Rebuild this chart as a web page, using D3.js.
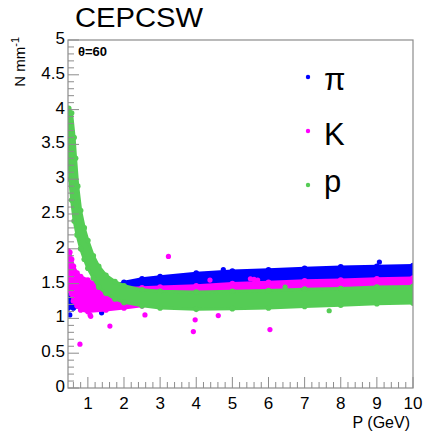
<!DOCTYPE html>
<html lang="en">
<head>
    <meta charset="UTF-8">
    <script src="https://d3js.org/d3.v7.min.js"></script>
    <title>CEPCSW dN/dx</title>
    <style>
        body { margin: 0; background: #fff; }
        svg { font-family: "Liberation Sans", Arial, sans-serif; }
    </style>
</head>
<body>
    <div id="chart"></div>
    <script>
        // band envelopes: [P (GeV), N mm^-1]
        const piUpper = [[0.45, 1.47], [0.5, 1.42], [0.6, 1.38], [0.7, 1.36], [1.0, 1.35], [1.5, 1.42], [1.8, 1.47], [2.0, 1.52], [2.5, 1.57], [3, 1.6], [4, 1.65], [5, 1.68], [6, 1.7], [7, 1.72], [8, 1.74], [9, 1.75], [10, 1.76]];
        const piLower = [[0.45, 1.15], [0.6, 1.15], [0.7, 1.18], [1.0, 1.18], [1.5, 1.2], [2, 1.25], [3, 1.3], [10, 1.35]];

        const kUpper = [[0.45, 1.97], [0.5, 1.95], [0.55, 1.85], [0.6, 1.75], [0.7, 1.65], [0.8, 1.6], [1.0, 1.55], [1.2, 1.5], [1.5, 1.45], [2, 1.43], [2.5, 1.44], [3, 1.45], [4, 1.47], [5, 1.5], [6, 1.52], [7, 1.54], [8, 1.55], [9, 1.57], [10, 1.58]];
        const kLower = [[0.45, 1.45], [0.5, 1.4], [0.55, 1.35], [0.6, 1.25], [0.7, 1.18], [0.8, 1.12], [1.0, 1.1], [1.5, 1.12], [2, 1.15], [2.5, 1.18], [3, 1.22], [4, 1.3], [5, 1.32], [6, 1.33], [7, 1.34], [8, 1.35], [9, 1.36], [10, 1.37]];

        const pOuter = [[0.47, 4.02], [0.55, 3.95], [0.62, 3.6], [0.66, 3.3], [0.72, 2.9], [0.8, 2.55], [0.9, 2.3], [1.0, 2.12], [1.15, 1.9], [1.3, 1.75], [1.5, 1.62], [1.75, 1.53], [2.0, 1.47], [2.5, 1.41], [3, 1.39], [4, 1.38], [5, 1.39], [6, 1.4], [7, 1.42], [8, 1.43], [9, 1.45], [10, 1.46]];
        const pInner = [[0.45, 4.0], [0.47, 3.5], [0.5, 3.0], [0.55, 2.7], [0.62, 2.4], [0.7, 2.2], [0.8, 2.0], [0.9, 1.85], [1.0, 1.72], [1.15, 1.58], [1.3, 1.45], [1.5, 1.36], [1.75, 1.28], [2.0, 1.23], [2.5, 1.18], [3, 1.15], [4, 1.13], [5, 1.14], [6, 1.15], [7, 1.17], [8, 1.19], [9, 1.21], [10, 1.22]];

        // isolated points
        const piOut = [[0.5, 1.05], [1.38, 1.08], [9.07, 1.81], [4.75, 1.7]];
        const kOut = [[3.23, 1.89], [0.78, 0.63], [1.61, 0.89], [1.08, 1.03], [3.97, 0.98], [3.92, 0.81], [4.61, 1.04], [4.38, 1.55], [2.58, 1.05], [6.04, 0.84], [5.5, 1.57], [5.6, 1.56], [5.7, 1.55], [1.06, 1.05]];
        const pOut = [[7.68, 1.11], [6.46, 1.45]];

        const xTicks = [1, 2, 3, 4, 5, 6, 7, 8, 9, 10];
        const yTicks = [0, 0.5, 1, 1.5, 2, 2.5, 3, 3.5, 4, 4.5, 5];

        const width = 423, height = 432;
        const mLeft = 68, mRight = 413, mTop = 40, mBottom = 388;

        const x = d3.scaleLinear().domain([0.45, 10]).range([mLeft, mRight]);
        const y = d3.scaleLinear().domain([0, 5]).range([mBottom, mTop]);

        const svg = d3.select("#chart").append("svg")
            .attr("width", width)
            .attr("height", height);

        svg.append("defs").append("clipPath").attr("id", "frame")
            .append("rect")
            .attr("x", mLeft).attr("y", mTop)
            .attr("width", mRight - mLeft).attr("height", mBottom - mTop);

        const plot = svg.append("g").attr("clip-path", "url(#frame)");

        const line = d3.line().x(d => x(d[0])).y(d => y(d[1]));

        const bands = [
            { upper: piUpper, lower: piLower, out: piOut, color: "#0000ff" },
            { upper: kUpper, lower: kLower, out: kOut, color: "#ff00ff" },
            { upper: pOuter, lower: pInner, out: pOut, color: "#55cc55" }
        ];

        bands.forEach(b => {
            const poly = b.upper.concat(b.lower.slice().reverse());
            plot.append("path")
                .attr("d", line(poly) + "Z")
                .attr("fill", b.color)
                .attr("stroke", b.color)
                .attr("stroke-width", 3)
                .attr("stroke-linejoin", "round");

            // markers on the read edge points give the dotted, bumpy rim
            plot.selectAll(null)
                .data(b.upper.concat(b.lower))
                .enter()
                .append("circle")
                .attr("cx", d => x(d[0]))
                .attr("cy", d => y(d[1]))
                .attr("r", 2.8)
                .attr("fill", b.color);

            plot.selectAll(null)
                .data(b.out)
                .enter()
                .append("circle")
                .attr("cx", d => x(d[0]))
                .attr("cy", d => y(d[1]))
                .attr("r", 2.6)
                .attr("fill", b.color);
        });

        // frame and ticks
        const axisColor = "#8c8c8c";
        svg.append("rect")
            .attr("x", mLeft).attr("y", mTop)
            .attr("width", mRight - mLeft).attr("height", mBottom - mTop)
            .attr("fill", "none")
            .attr("stroke", axisColor)
            .attr("stroke-width", 1.2);

        const xMinor = d3.range(0.6, 10.001, 0.2);
        svg.selectAll(null).data(xMinor).enter().append("line")
            .attr("x1", d => x(d)).attr("x2", d => x(d))
            .attr("y1", mBottom).attr("y2", d => Math.abs(d - Math.round(d)) < 0.01 ? mBottom - 11 : mBottom - 6)
            .attr("stroke", axisColor);

        const yMinor = d3.range(0, 5.001, 0.1);
        svg.selectAll(null).data(yMinor).enter().append("line")
            .attr("y1", d => y(d)).attr("y2", d => y(d))
            .attr("x1", mLeft).attr("x2", d => Math.abs(d * 2 - Math.round(d * 2)) < 0.01 ? mLeft + 11 : mLeft + 6)
            .attr("stroke", axisColor);

        svg.selectAll(null).data(xTicks).enter().append("text")
            .attr("x", d => x(d))
            .attr("y", 409)
            .attr("text-anchor", "middle")
            .style("font-size", "17px")
            .text(d => d);

        svg.selectAll(null).data(yTicks).enter().append("text")
            .attr("x", 65)
            .attr("y", d => y(d) + 4)
            .attr("text-anchor", "end")
            .style("font-size", "17px")
            .text(d => d);

        // titles
        svg.append("text")
            .attr("x", 75).attr("y", 27)
            .attr("textLength", 128)
            .attr("lengthAdjust", "spacingAndGlyphs")
            .style("font-size", "27px")
            .text("CEPCSW");

        svg.append("text")
            .attr("x", 78).attr("y", 56)
            .style("font-size", "13px")
            .style("font-weight", "bold")
            .text("θ=60");

        svg.append("text")
            .attr("x", 410).attr("y", 428)
            .attr("text-anchor", "end")
            .style("font-size", "16px")
            .text("P (GeV)");

        const yTitle = svg.append("text")
            .attr("transform", "translate(25,37) rotate(-90)")
            .attr("text-anchor", "end")
            .style("font-size", "15px");
        yTitle.append("tspan").text("N mm");
        yTitle.append("tspan").attr("dy", -6).style("font-size", "11px").text("-1");

        // legend
        const legend = [
            { label: "π", color: "#0000ff", y: 77, base: 90 },
            { label: "K", color: "#ff00ff", y: 131, base: 145 },
            { label: "p", color: "#55cc55", y: 185, base: 192 }
        ];
        legend.forEach(l => {
            svg.append("circle")
                .attr("cx", 308).attr("cy", l.y).attr("r", 2.2)
                .attr("fill", l.color);
            svg.append("text")
                .attr("x", 324).attr("y", l.base)
                .style("font-size", "31px")
                .text(l.label);
        });
    </script>
</body>
</html>
